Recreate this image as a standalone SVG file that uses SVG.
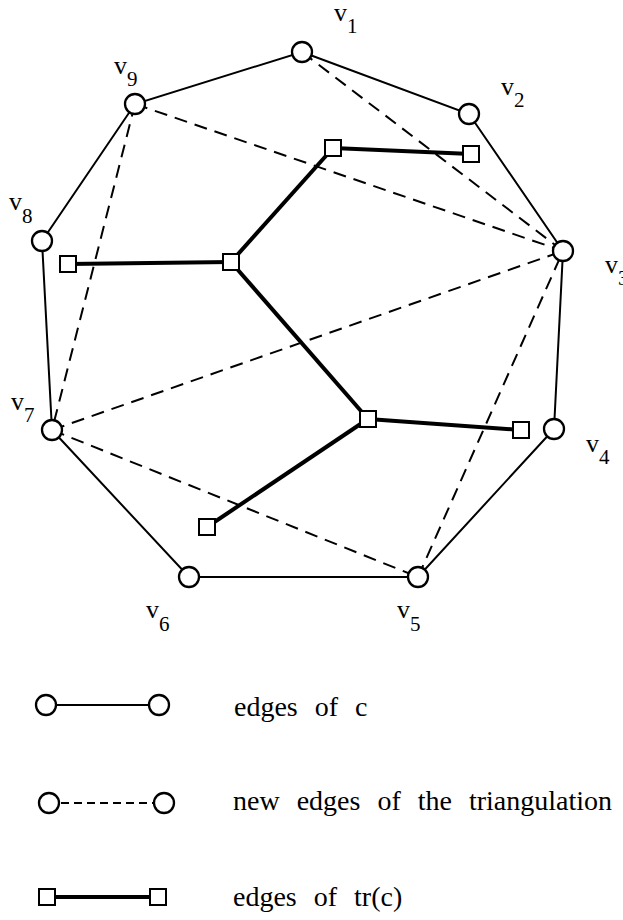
<svg xmlns="http://www.w3.org/2000/svg" width="623" height="920" viewBox="0 0 623 920">
<style>
.edge{stroke:#000;stroke-width:2;fill:none}
.dash{stroke:#000;stroke-width:2;fill:none;stroke-dasharray:13 8}
.tree{stroke:#000;stroke-width:4;fill:none}
.v{fill:#fff;stroke:#000;stroke-width:2.3}
.sq{fill:#fff;stroke:#000;stroke-width:2}
text{font-family:"Liberation Serif","DejaVu Serif","Times New Roman",serif;fill:#000}
.lbl{font-size:26px}
.sub{font-size:21px}
.leg{font-size:28px;word-spacing:10px}
</style>
<rect width="623" height="920" fill="#fff"/>
<g id="connectors">
<polygon class="edge" points="302,52 469,114 563,251 554,429 418,577 189,577 52,430 42,241 135,104"/>
<line class="dash" x1="302" y1="52" x2="563" y2="251"/>
<line class="dash" x1="135" y1="104" x2="563" y2="251"/>
<line class="dash" x1="135" y1="104" x2="52" y2="430"/>
<line class="dash" x1="52" y1="430" x2="563" y2="251"/>
<line class="dash" x1="52" y1="430" x2="418" y2="577"/>
<line class="dash" x1="418" y1="577" x2="563" y2="251"/>
<line class="tree" x1="333" y1="148" x2="471" y2="154"/>
<line class="tree" x1="333" y1="148" x2="231" y2="262"/>
<line class="tree" x1="231" y1="262" x2="68" y2="264"/>
<line class="tree" x1="231" y1="262" x2="368" y2="419"/>
<line class="tree" x1="368" y1="419" x2="521" y2="430"/>
<line class="tree" x1="368" y1="419" x2="207" y2="527"/>
</g>
<g id="v1"><circle class="v" cx="302" cy="52" r="10"/><text class="lbl" font-family="Liberation Serif, serif" x="334" y="21">v<tspan class="sub" dy="12">1</tspan></text></g>
<g id="v2"><circle class="v" cx="469" cy="114" r="10"/><text class="lbl" font-family="Liberation Serif, serif" x="501" y="95">v<tspan class="sub" dy="12">2</tspan></text></g>
<g id="v3"><circle class="v" cx="563" cy="251" r="10"/><text class="lbl" font-family="Liberation Serif, serif" x="605" y="273">v<tspan class="sub" dy="12">3</tspan></text></g>
<g id="v4"><circle class="v" cx="554" cy="429" r="10"/><text class="lbl" font-family="Liberation Serif, serif" x="586" y="452">v<tspan class="sub" dy="12">4</tspan></text></g>
<g id="v5"><circle class="v" cx="418" cy="577" r="10"/><text class="lbl" font-family="Liberation Serif, serif" x="397" y="618">v<tspan class="sub" dy="13">5</tspan></text></g>
<g id="v6"><circle class="v" cx="189" cy="577" r="10"/><text class="lbl" font-family="Liberation Serif, serif" x="146" y="618">v<tspan class="sub" dy="13">6</tspan></text></g>
<g id="v7"><circle class="v" cx="52" cy="430" r="10"/><text class="lbl" font-family="Liberation Serif, serif" x="11" y="410">v<tspan class="sub" dy="12">7</tspan></text></g>
<g id="v8"><circle class="v" cx="42" cy="241" r="10"/><text class="lbl" font-family="Liberation Serif, serif" x="9" y="210">v<tspan class="sub" dy="13">8</tspan></text></g>
<g id="v9"><circle class="v" cx="135" cy="104" r="10"/><text class="lbl" font-family="Liberation Serif, serif" x="114" y="74">v<tspan class="sub" dy="12">9</tspan></text></g>
<g id="t1"><rect class="sq" x="325" y="140" width="16" height="16"/></g>
<g id="t2"><rect class="sq" x="463" y="146" width="16" height="16"/></g>
<g id="t3"><rect class="sq" x="223" y="254" width="16" height="16"/></g>
<g id="t4"><rect class="sq" x="60" y="256" width="16" height="16"/></g>
<g id="t5"><rect class="sq" x="360" y="411" width="16" height="16"/></g>
<g id="t6"><rect class="sq" x="513" y="422" width="16" height="16"/></g>
<g id="t7"><rect class="sq" x="199" y="519" width="16" height="16"/></g>
<g id="legend">
<line class="edge" x1="46" y1="705" x2="159" y2="705"/>
<circle class="v" cx="46" cy="705" r="10"/><circle class="v" cx="159" cy="705" r="10"/>
<text class="leg" font-family="Liberation Serif, serif" x="234" y="716">edges of c</text>
<line class="edge" x1="49" y1="803" x2="164" y2="803" style="stroke-dasharray:8 5;stroke-dashoffset:-12"/>
<circle class="v" cx="49" cy="803" r="10"/><circle class="v" cx="164" cy="803" r="10"/>
<text class="leg" font-family="Liberation Serif, serif" x="233" y="810">new edges of the triangulation</text>
<line class="tree" x1="47" y1="897" x2="158" y2="897"/>
<rect class="sq" x="39" y="889" width="16" height="16"/><rect class="sq" x="150" y="889" width="16" height="16"/>
<text class="leg" font-family="Liberation Serif, serif" x="233" y="906">edges of tr(c)</text>
</g>
</svg>
